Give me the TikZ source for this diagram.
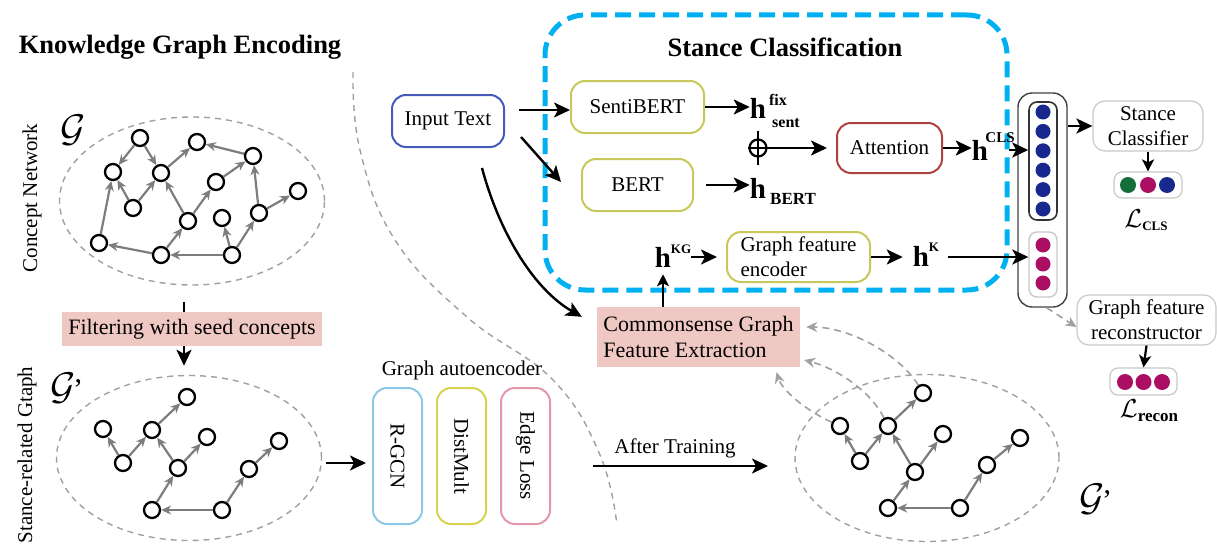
\documentclass[tikz,border=0pt]{standalone}
\usepackage{fontspec}
\setmainfont{Liberation Serif}
\usetikzlibrary{arrows.meta,shapes.geometric,calc}

\definecolor{cyanb}{RGB}{0,176,240}
\definecolor{inblue}{RGB}{70,90,185}
\definecolor{olivec}{RGB}{200,200,90}
\definecolor{attred}{RGB}{175,65,65}
\definecolor{pinkfill}{RGB}{240,200,195}
\definecolor{rgcnc}{RGB}{140,200,230}
\definecolor{distc}{RGB}{215,210,80}
\definecolor{edgec}{RGB}{230,150,170}
\definecolor{dotblue}{RGB}{25,40,140}
\definecolor{dotmag}{RGB}{170,15,100}
\definecolor{dotgreen}{RGB}{20,110,60}
\definecolor{lgray}{RGB}{200,200,200}
\definecolor{egray}{RGB}{125,125,125}
\definecolor{dgray}{RGB}{160,160,160}

\newcommand{\fsN}{\fontsize{21}{25}\selectfont}
\newcommand{\fsT}{\fontsize{26.5}{30}\selectfont\bfseries}
\newcommand{\calG}{\scalebox{1.55}{$\mathcal{G}$}}
\newcommand{\calL}{\scalebox{1.25}{$\mathcal{L}$}}

\begin{document}
\begin{tikzpicture}[x=1pt,y=-1pt,font=\fsN,
 gnode/.style={circle,draw,line width=2.3pt,minimum size=16pt,inner sep=0pt,fill=white},
 gedge/.style={draw=egray,line width=2.2pt,-{Stealth[length=10pt,width=9pt]}},
 arr/.style={line width=2.4pt,-{Stealth[length=16pt,width=15pt,inset=4pt]}},
 arrs/.style={line width=2.2pt,-{Stealth[length=12pt,width=12pt,inset=3pt]}},
 rbox/.style={draw,rounded corners=14pt,line width=2pt,inner sep=0pt},
 lbox/.style={draw=lgray,rounded corners=12pt,line width=1.2pt,inner sep=0pt,align=center},
 gell/.style={ellipse,draw=dgray,dash pattern=on 6pt off 5pt,line width=1.4pt,inner sep=0pt},
 hbig/.style={font=\fontsize{29}{30}\selectfont\bfseries,inner sep=0pt},
 hsc/.style={font=\fontsize{16}{16}\selectfont\bfseries,inner sep=0pt},
 hsm/.style={font=\fontsize{13}{13}\selectfont\bfseries,inner sep=0pt},
 vdot/.style={circle,inner sep=0pt,minimum size=15pt},
 darr/.style={draw=dgray,line width=1.6pt,dash pattern=on 7pt off 5pt,-{Stealth[length=11pt,width=10pt]}},
]
\useasboundingbox (0,0) rectangle (1217,551);

% dividing curve
\draw[dgray,line width=1.4pt,dash pattern=on 6pt off 5pt] plot[smooth,tension=0.7] coordinates {(353,72) (360,150) (395,240) (467,317) (553,380) (600,455) (617,525)};

% stance classification region
\node[draw=cyanb,line width=5pt,dash pattern=on 16pt off 8pt,rounded corners=40pt,minimum width=462pt,minimum height=275pt,inner sep=0pt] (scbox) at (776,152.5) {};

% titles
\node[font=\fsT] (kgtitle) at (180,47) {Knowledge Graph Encoding};
\node[font=\fsT] (sctitle) at (785,47) {Stance Classification};

% side labels
\node[rotate=90] (cnlab) at (32,198) {Concept Network};
\node[rotate=90] (srlab) at (27,455) {Stance-related Gtaph};

% ellipses
\node[gell,minimum width=265pt,minimum height=168pt] (ellA) at (192,201) {};
\node[gell,minimum width=265pt,minimum height=165pt] (ellB) at (189,458) {};
\node[gell,minimum width=264pt,minimum height=167pt] (ellC) at (927,458) {};

\node[font=\fontsize{30}{30}\selectfont,inner sep=0pt] (gA) at (73,130) {\calG};
\node[font=\fontsize{30}{30}\selectfont,inner sep=0pt] (gB) at (67,388) {\calG\hspace{-3pt}’};
\node[font=\fontsize{30}{30}\selectfont,inner sep=0pt] (gC) at (1096,499) {\calG\hspace{-3pt}’};

% graph A
\foreach \n/\x/\y in {a1/140/138,a2/197/142,a3/253/156,a4/113/172,a5/161/173,a6/216/182,a7/298/191,a8/133/208,a9/188/221,a10/222/218,a11/259/213,a12/99/243,a13/161/255,a14/232/255}
  \node[gnode] (\n) at (\x,\y) {};
\foreach \s/\t in {a1/a4,a1/a5,a5/a2,a3/a2,a8/a4,a8/a5,a9/a5,a9/a6,a6/a3,a11/a3,a11/a7,a12/a4,a13/a12,a13/a9,a14/a13,a14/a10,a14/a11}
  \draw[gedge] (\s) -- (\t);

% graph B
\foreach \n/\x/\y in {b1/187/397,b2/103/429,b3/152/430,b4/207/437,b5/279/441,b6/123/463,b7/178/468,b8/249/469,b9/152/510,b10/222/510}
  \node[gnode] (\n) at (\x,\y) {};
\foreach \s/\t in {b3/b1,b6/b2,b6/b3,b7/b3,b7/b4,b9/b7,b10/b9,b10/b8,b8/b5}
  \draw[gedge] (\s) -- (\t);

% graph C
\foreach \n/\x/\y in {c1/923/393,c2/840/426,c3/888/426,c4/943/434,c5/1020/438,c6/860/461,c7/915/472,c8/987/465,c9/888/508,c10/960/508}
  \node[gnode] (\n) at (\x,\y) {};
\foreach \s/\t in {c3/c1,c6/c2,c6/c3,c7/c3,c7/c4,c9/c7,c10/c9,c10/c8,c8/c5}
  \draw[gedge] (\s) -- (\t);

% filtering
\draw[arr] ($(ellA.south)+(-8,16)$) -- ($(ellB.north)+(-5,-9)$);
\node[fill=pinkfill,minimum width=260pt,minimum height=34pt,inner sep=0pt,font=\fontsize{22}{25}\selectfont] (filt) at (192,329) {Filtering with seed concepts};

% autoencoder
\node (gaelab) at (462,370) {Graph autoencoder};
\node[rbox,draw=rgcnc,rotate=-90,minimum width=136pt,minimum height=49pt] (rgcn) at (397.5,456) {R-GCN};
\node[rbox,draw=distc,rotate=-90,minimum width=136pt,minimum height=49pt] (dist) at (461.5,456) {DistMult};
\node[rbox,draw=edgec,rotate=-90,minimum width=136pt,minimum height=49pt] (eloss) at (525.5,456) {Edge Loss};
\draw[arr] ($(ellB.east)+(4,5)$) -- ($(rgcn.south)+(-6,7)$);

% after training
\coordinate (at1) at (593,466);
\coordinate (at2) at (768,466);
\draw[arr] (at1) -- (at2);
\node (atlab) at (675,448) {After Training};

% text encoders
\node[rbox,draw=inblue,minimum width=112pt,minimum height=52pt] (input) at (448,121) {Input Text};
\node[rbox,draw=olivec,minimum width=133pt,minimum height=52pt] (senti) at (637.5,107) {SentiBERT};
\node[rbox,draw=olivec,minimum width=111pt,minimum height=52pt] (bert) at (637.5,185) {BERT};
\node[rbox,draw=attred,minimum width=105pt,minimum height=50pt] (att) at (889.5,148) {Attention};
\node[rbox,draw=olivec,minimum width=143pt,minimum height=50pt,align=left] (enc) at (798.5,257) {Graph feature\\encoder};
\node[fill=pinkfill,minimum width=203pt,minimum height=60pt,inner sep=0pt,align=left,font=\fontsize{22}{26}\selectfont] (cs) at (698.5,337) {Commonsense Graph\\Feature Extraction};

\draw[arr] ($(input.east)+(14,-11)$) -- ($(senti.west)+(0,3)$);
\draw[arr] ($(input.east)+(16,16)$) -- ($(bert.west)+(-20,-3)$);
\draw[arr] ($(input.south)+(34,20)$) .. controls (500,235) and (535,290) .. ($(cs.north west)+(-15,10)$);

% h symbols
\node[hbig] (hsent) at (758,108) {h};
\node[hsc] (hsentsup) at (778,100) {fix};
\node[hsc] (hsentsub) at (786,123) {sent};
\node[hbig] (hbert) at (758,188) {h};
\node[hsc,font=\fontsize{17}{17}\selectfont\bfseries] (hbertsub) at (793,199) {BERT};
\node[hbig] (hcls) at (980,150) {h};
\node[hsm,font=\fontsize{15}{15}\selectfont\bfseries] (hclssup) at (1000,138) {CLS};
\node[hbig] (hkg) at (663,257) {h};
\node[hsm] (hkgsup) at (681,249) {KG};
\node[hbig] (hk) at (921,256) {h};
\node[hsm] (hksup) at (934,247) {K};

\draw[arr] (senti.east) -- (senti.east -| hsent.west);
\draw[arr] ($(bert.east)+(12,0)$) -- (bert.east -| hbert.west);

\node[circle,draw,line width=2.2pt,minimum size=17pt,inner sep=0pt] (oplus) at (758,148) {};
\draw[line width=2.2pt] ($(oplus.north)+(0,-7)$) -- ($(oplus.south)+(0,7)$);
\draw[line width=2.2pt] (oplus.west) -- (oplus.east);
\draw[arr,shorten >=9pt] (oplus.east) -- (att.west);
\draw[arr] (att.east) -- (att.east -| hcls.west);

\draw[arr,shorten >=9pt] (enc.west -| hkgsup.east) -- (enc.west);
\draw[arrs,shorten >=7pt] (cs.north -| hkg) -- (hkg.south);
\draw[arr,shorten >=10pt] (enc.east) -- (enc.east -| hk.west);

% vector
\node[draw=black!75,rounded corners=14pt,line width=1.4pt,minimum width=49pt,minimum height=214pt,inner sep=0pt] (vec) at (1042.5,200) {};
\node[draw=black!80,rounded corners=8pt,line width=1.6pt,minimum width=28pt,minimum height=118pt,inner sep=0pt] (vtop) at (1043,161) {};
\node[draw=lgray,rounded corners=8pt,line width=1.4pt,minimum width=28pt,minimum height=65pt,inner sep=0pt] (vbot) at (1043,264.5) {};
\foreach \i in {0,...,5}
  \node[vdot,fill=dotblue] (vb\i) at (1043,{112+19.4*\i}) {};
\foreach \i/\yy in {0/245,1/264,2/283}
  \node[vdot,fill=dotmag] (vm\i) at (1043,\yy) {};

\coordinate (hclsout) at ($(hcls.east)+(21,0)$);
\draw[arr] (hclsout) -- (hclsout -| vtop.west);
\draw[arr] ($(enc.east -| hksup.east)+(9,0)$) -- (enc.east -| vbot.west);

% classifier
\node[lbox,minimum width=110pt,minimum height=50pt] (stance) at (1148,126) {Stance\\Classifier};
\draw[arr] (stance.west -| vec.east) -- (stance.west);
\node[draw=lgray,rounded corners=8pt,line width=1.2pt,minimum width=68pt,minimum height=26pt,inner sep=0pt] (lcls) at (1148,185) {};
\draw[arrs] (stance.south) -- (lcls.north);
\node[vdot,minimum size=16pt,fill=dotgreen] (lc1) at (1128,185) {};
\node[vdot,minimum size=16pt,fill=dotmag] (lc2) at (1148,185) {};
\node[vdot,minimum size=16pt,fill=dotblue] (lc3) at (1167,185) {};
\node[inner sep=0pt] (lclslab) at (1146,220) {\calL\raisebox{-3pt}{\fontsize{13}{13}\selectfont\bfseries CLS}};

% reconstructor
\node[lbox,minimum width=139pt,minimum height=50pt] (recon) at (1146.5,320) {Graph feature\\reconstructor};
\draw[darr] ($(vec.south)+(4,0)$) -- ($(recon.west)+(0,7)$);
\node[draw=lgray,rounded corners=8pt,line width=1.2pt,minimum width=67pt,minimum height=27pt,inner sep=0pt] (lrec) at (1143.5,381.5) {};
\draw[arrs] (recon.south) -- (lrec.north);
\node[vdot,minimum size=16pt,fill=dotmag] (lr1) at (1125,382) {};
\node[vdot,minimum size=16pt,fill=dotmag] (lr2) at (1143.5,382) {};
\node[vdot,minimum size=16pt,fill=dotmag] (lr3) at (1162,382) {};
\node[inner sep=0pt] (lreclab) at (1149,411) {\calL\raisebox{-4pt}{\fontsize{17}{17}\selectfont\bfseries recon}};

% dashed feature arrows
\draw[darr] (c1) .. controls (900,355) and (850,327) .. ($(cs.east)+(6,-10)$);
\draw[darr] (c3) .. controls (870,390) and (835,368) .. ($(cs.east)+(4,23)$);
\draw[darr] (c2) .. controls (805,410) and (782,390) .. ($(cs.south)+(78,5)$);

\end{tikzpicture}
\end{document}
